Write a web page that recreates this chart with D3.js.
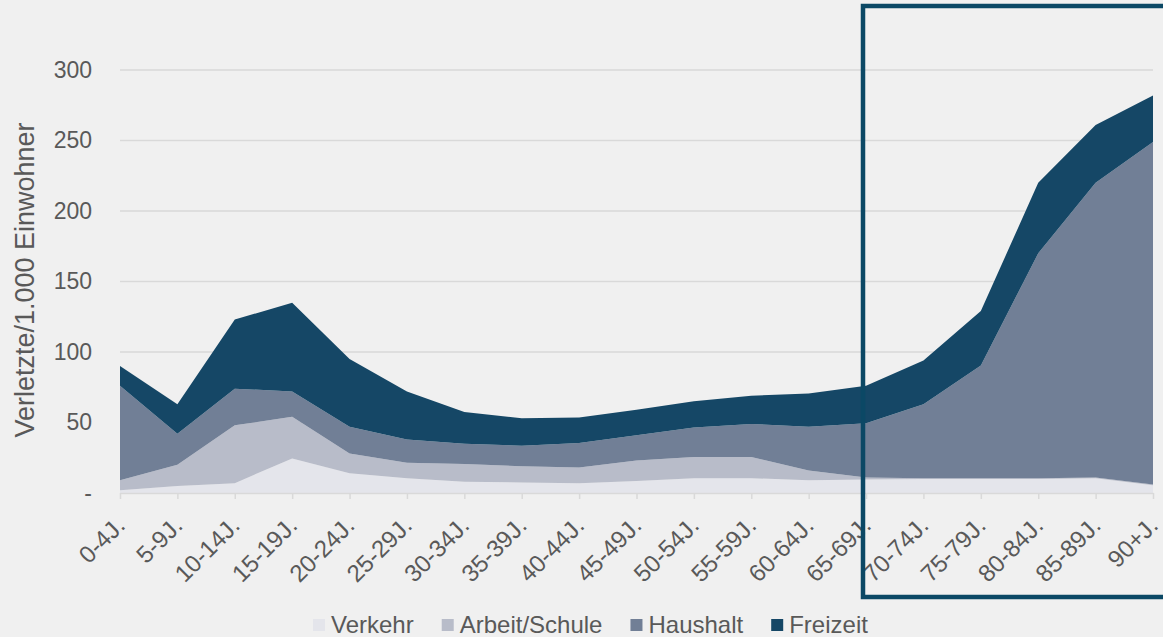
<!DOCTYPE html>
<html>
<head>
<meta charset="utf-8">
<script src="https://cdn.jsdelivr.net/npm/d3@7/dist/d3.min.js"></script>
<style>
  body { margin: 0; background: #f0f0f0; }
  svg { display: block; font-family: "Liberation Sans", Arial, sans-serif; }
</style>
</head>
<body>
<script>
// Width and Height
const w = 1163;
const h = 637;

// categories (age groups)
const ageGroups = ["0-4J.", "5-9J.", "10-14J.", "15-19J.", "20-24J.", "25-29J.", "30-34J.",
  "35-39J.", "40-44J.", "45-49J.", "50-54J.", "55-59J.", "60-64J.", "65-69J.",
  "70-74J.", "75-79J.", "80-84J.", "85-89J.", "90+J."];

// series values, injured per 1.000 inhabitants
const verkehr  = [2, 5, 7, 24.5, 14, 10.5, 8, 7.5, 7, 8.5, 10.5, 10.5, 9, 9.5, 10, 10, 10, 10.5, 5.5];
const arbeit   = [7, 15, 41, 29.5, 14, 11, 12.5, 11.5, 11, 14.5, 15, 15, 7, 1.5, 0.5, 0.5, 0.5, 0.5, 0.5];
const haushalt = [67, 22, 26, 18, 19, 16.5, 14.5, 14.5, 17.5, 18, 21, 23.5, 31, 38.5, 52.5, 80, 159.5, 209, 243];
const freizeit = [14, 21, 49, 63, 48, 34, 22.5, 19.5, 18, 18, 18.5, 20, 23.5, 26.5, 31, 38.5, 50, 41, 33];

// tick labels
const yTicks = [0, 50, 100, 150, 200, 250, 300];
const seriesNames = ["Verkehr", "Arbeit/Schule", "Haushalt", "Freizeit"];
const seriesColors = ["#e4e5eb", "#b8bcc9", "#717f96", "#154766"];

// build rows for the stack
const rows = ageGroups.map(function(g, i) {
    return {
        group: g,
        "Verkehr": verkehr[i],
        "Arbeit/Schule": arbeit[i],
        "Haushalt": haushalt[i],
        "Freizeit": freizeit[i]
    };
});

// Create SVG
const svg = d3.select("body")
                .append("svg")
                .attr("width", w)
                .attr("height", h);

// Scales
const x = d3.scalePoint()
            .domain(ageGroups)
            .range([120, 1153]);

const y = d3.scaleLinear()
            .domain([0, 300])
            .range([493, 70]);

const color = d3.scaleOrdinal()
                .domain(seriesNames)
                .range(seriesColors);

// gridlines
svg.append("g")
    .selectAll("line")
    .data(yTicks.filter(function(d) { return d > 0; }))
    .enter()
    .append("line")
    .attr("x1", 120)
    .attr("x2", 1153)
    .attr("y1", function(d) { return y(d); })
    .attr("y2", function(d) { return y(d); })
    .attr("stroke", "#d9d9d9")
    .attr("stroke-width", 1.5);

// stacked areas
const stack = d3.stack().keys(seriesNames);
const series = stack(rows);

const area = d3.area()
                .x(function(d) { return x(d.data.group); })
                .y0(function(d) { return y(d[0]); })
                .y1(function(d) { return y(d[1]); });

svg.append("g")
    .selectAll("path")
    .data(series)
    .enter()
    .append("path")
    .attr("d", area)
    .style("fill", function(d) { return color(d.key); });

// x axis
const xAxis = svg.append("g")
    .attr("transform", "translate(0," + y(0) + ")")
    .call(d3.axisBottom(x).tickSize(6).tickSizeOuter(0));

xAxis.select(".domain").attr("stroke", "#d9d9d9").attr("stroke-width", 1.5);
xAxis.selectAll(".tick line").attr("stroke", "#d9d9d9").attr("stroke-width", 1.5);
xAxis.selectAll(".tick text")
    .attr("fill", "#595959")
    .style("font-size", "24px")
    .attr("text-anchor", "end")
    .attr("x", 0)
    .attr("y", 0)
    .attr("dy", 0)
    .attr("transform", "translate(6,34) rotate(-45)");

// y axis labels (no line)
const yAxis = svg.append("g")
    .attr("transform", "translate(92,0)")
    .call(d3.axisLeft(y).tickValues(yTicks).tickSize(0)
        .tickFormat(function(d) { return d === 0 ? "-" : d; }));

yAxis.select(".domain").remove();
yAxis.selectAll(".tick text")
    .attr("fill", "#595959")
    .attr("x", 0)
    .style("font-size", "23px");

// y axis title
svg.append("text")
    .attr("transform", "translate(34,280) rotate(-90)")
    .attr("text-anchor", "middle")
    .attr("fill", "#595959")
    .style("font-size", "27px")
    .text("Verletzte/1.000 Einwohner");

// legend
const legend = svg.append("g");
let lx = 313;
seriesNames.forEach(function(name) {
    legend.append("rect")
        .attr("x", lx)
        .attr("y", 619)
        .attr("width", 12)
        .attr("height", 12)
        .attr("fill", color(name));
    const t = legend.append("text")
        .attr("x", lx + 18)
        .attr("y", 633)
        .attr("fill", "#595959")
        .style("font-size", "24px")
        .text(name);
    lx += 18 + t.node().getComputedTextLength() + 28;
});

// highlight box around the older age groups
svg.append("rect")
    .attr("x", 863)
    .attr("y", 6)
    .attr("width", 340)
    .attr("height", 591)
    .attr("fill", "none")
    .attr("stroke", "#0b4865")
    .attr("stroke-width", 4.5);
</script>
</body>
</html>
